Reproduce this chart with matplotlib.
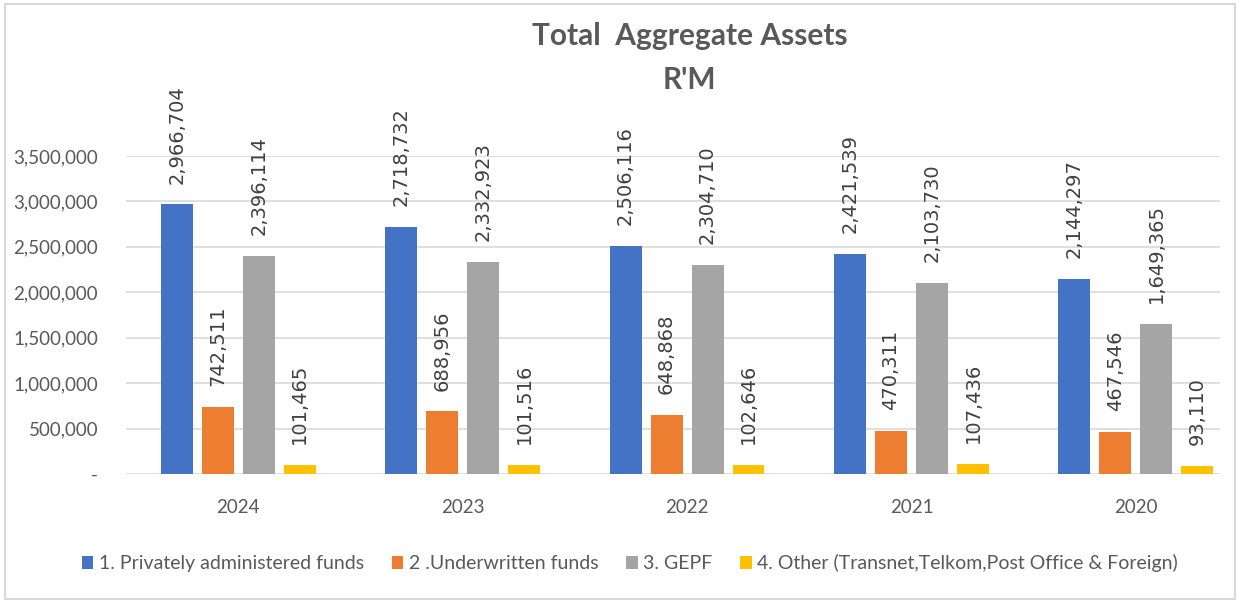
import numpy as np
from matplotlib import pyplot as plt
from matplotlib.patches import Rectangle

years = ['2024', '2023', '2022', '2021', '2020']
private = [2966704, 2718732, 2506116, 2421539, 2144297]
underwritten = [742511, 688956, 648868, 470311, 467546]
gepf = [2396114, 2332923, 2304710, 2103730, 1649365]
other = [101465, 101516, 102646, 107436, 93110]

series = [
    ('1. Privately administered funds', private, '#4472c4'),
    ('2 .Underwritten funds', underwritten, '#ed7d31'),
    ('3. GEPF', gepf, '#a5a5a5'),
    ('4. Other (Transnet,Telkom,Post Office & Foreign)', other, '#ffc000'),
]

txt = '#595959'
plt.rcParams['font.family'] = ['Lato', 'DejaVu Sans']

fig = plt.figure(figsize=(12.4, 6.01), dpi=100)
ax = fig.add_axes([0.1016, 0.2113, 0.8823, 0.5291])

x = np.arange(len(years))
w = 0.1425
step = 0.1826
for i, (name, vals, col) in enumerate(series):
    pos = x + (i - 1.5) * step
    ax.bar(pos, vals, w, color=col, label=name, zorder=3)
    for p, v in zip(pos, vals):
        ax.annotate(f'{v:,}', (p, v), xytext=(0, 15), textcoords='offset points',
                    rotation=90, ha='center', va='bottom', fontsize=14,
                    family='DejaVu Sans', color='#404040', annotation_clip=False)

ax.set_xlim(-0.5, 4.375)
ax.set_ylim(0, 3500000)
ticks = np.arange(0, 3500001, 500000)
ax.set_yticks(ticks)
ax.set_yticklabels(['-'] + [f'{t:,}' for t in ticks[1:]])
ax.set_xticks(x)
ax.set_xticklabels(years)
ax.tick_params(length=0, labelsize=13.5, colors=txt)
ax.tick_params(axis='x', pad=18)
ax.tick_params(axis='y', pad=20)
ax.yaxis.grid(True, color='#d9d9d9', linewidth=1.2, zorder=0)
for s in ax.spines.values():
    s.set_visible(False)

fig.text(0.556, 0.94, 'Total  Aggregate Assets', ha='center', va='center',
         fontsize=21.5, fontweight='bold', color=txt)
fig.text(0.556, 0.867, "R'M", ha='center', va='center',
         fontsize=21.5, fontweight='bold', color=txt)

fig.legend(loc='center', bbox_to_anchor=(0.508, 0.063), ncol=4, frameon=False,
           fontsize=14, labelcolor=txt, handlelength=0.6, handleheight=0.7,
           handletextpad=0.3, columnspacing=1.4)

fig.patches.append(Rectangle((0.004, 0.004), 0.992, 0.99, transform=fig.transFigure,
                             fill=False, edgecolor='#d9d9d9', linewidth=1.5))

plt.savefig('out.png')
plt.close()
